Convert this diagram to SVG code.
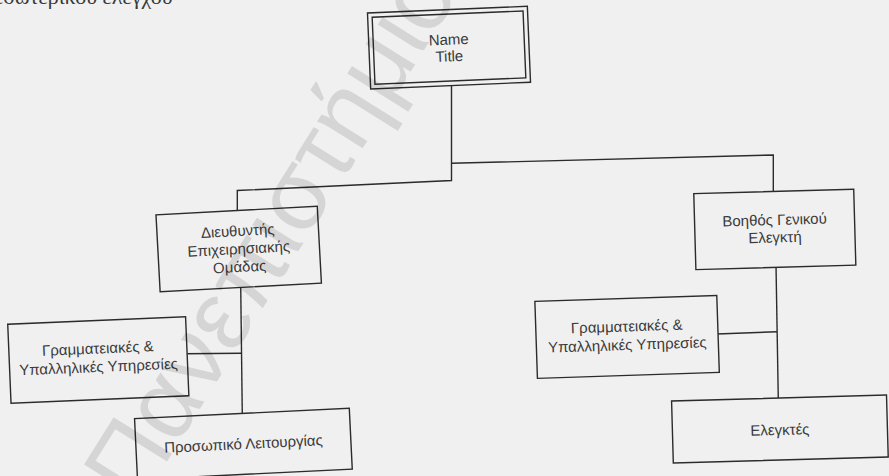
<svg xmlns="http://www.w3.org/2000/svg" width="889" height="476" viewBox="0 0 889 476">
  <style>
    .box { fill: #f0f0f0; stroke: #2b2b2b; stroke-width: 1.4; }
    .conn { fill: none; stroke: #2b2b2b; stroke-width: 1.4; stroke-linejoin: miter; }
    .lbl { font-family: "Liberation Sans", Arial, sans-serif; font-size: 15px; fill: #3a3a3a; text-anchor: middle; }
    .wm { font-family: "Liberation Sans", Arial, sans-serif; font-size: 100px; fill: #000; fill-opacity: 0.11; }
    .cut { font-family: "Liberation Serif", "Times New Roman", serif; font-size: 22px; fill: #3a3a3a; }
  </style>
  <rect x="0" y="0" width="889" height="476" fill="#f0f0f0"/>
  <text class="cut" x="-6" y="4">εσωτερικού ελέγχου</text>

  <g id="connectors">
    <polyline class="conn" points="451.5,83 451.5,180.5 237.3,190.5 237.3,213"/>
    <polyline class="conn" points="451.5,163.3 773.3,155 773.3,194"/>
    <line class="conn" x1="240.7" y1="285" x2="242.3" y2="416"/>
    <line class="conn" x1="185" y1="353.8" x2="241.2" y2="353.3"/>
    <line class="conn" x1="776" y1="265" x2="778.3" y2="400"/>
    <line class="conn" x1="717" y1="334" x2="777" y2="331.7"/>
  </g>

  <g id="node-top" transform="rotate(-2.4 449 47.6)">
    <rect class="box" x="369" y="9.6" width="160" height="76"/>
    <rect class="box" x="373.5" y="14.1" width="151" height="67"/>
    <text class="lbl" x="449" y="44.7">Name</text>
    <text class="lbl" x="449" y="61.4">Title</text>
  </g>

  <g id="node-director" transform="rotate(-3.1 238.7 249)">
    <rect class="box" x="157.95" y="210.5" width="161.5" height="77"/>
    <text class="lbl" x="238.7" y="236">Διευθυντής</text>
    <text class="lbl" x="238.7" y="254">Επιχειρησιακής</text>
    <text class="lbl" x="238.7" y="272">Ομάδας</text>
  </g>

  <g id="node-secretarial-left" transform="rotate(-2.4 98.3 360)">
    <rect class="box" x="9.3" y="320.5" width="178" height="79"/>
    <text class="lbl" x="98.3" y="353.5">Γραμματειακές &amp;</text>
    <text class="lbl" x="98.3" y="372">Υπαλληλικές Υπηρεσίες</text>
  </g>

  <g id="node-operations" transform="rotate(-2.8 243.4 443.9)">
    <rect class="box" x="135.9" y="413.4" width="215" height="61"/>
    <text class="lbl" x="243.4" y="449">Προσωπικό Λειτουργίας</text>
  </g>

  <g id="node-assistant" transform="rotate(-1.6 774.8 229.4)">
    <rect class="box" x="694.8" y="191.4" width="160" height="76"/>
    <text class="lbl" x="774.8" y="225">Βοηθός Γενικού</text>
    <text class="lbl" x="774.8" y="242.5">Ελεγκτή</text>
  </g>

  <g id="node-secretarial-right" transform="rotate(-1.9 627.1 336.9)">
    <rect class="box" x="536.1" y="298.4" width="182" height="77"/>
    <text class="lbl" x="627.1" y="331.5">Γραμματειακές &amp;</text>
    <text class="lbl" x="627.1" y="350">Υπαλληλικές Υπηρεσίες</text>
  </g>

  <g id="node-auditors" transform="rotate(-1.6 779.9 429)">
    <rect class="box" x="672.4" y="398" width="215" height="62"/>
    <text class="lbl" x="779.9" y="435">Ελεγκτές</text>
  </g>

  <text class="wm" x="138" y="508" transform="rotate(-58 138 508)">Πανεπιστήμιο</text>
</svg>
